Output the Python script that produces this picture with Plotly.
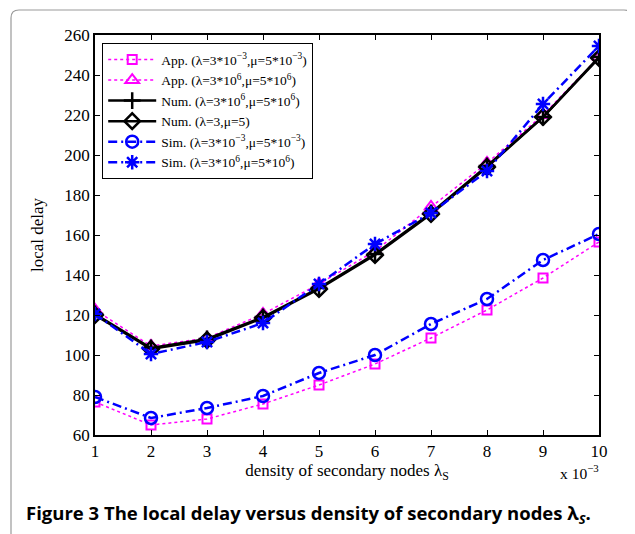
import plotly.graph_objects as go

x = [1, 2, 3, 4, 5, 6, 7, 8, 9, 10]
app_low = [76.5, 65, 68, 75.5, 85, 95.5, 108.5, 122.5, 138.5, 156.5]
app_high = [122.5, 104.5, 108.5, 120.5, 135.5, 152, 174, 196, 220, 249]
num_high = [120.5, 103.5, 108, 119, 133.5, 150.5, 171, 194.5, 219, 249]
num_small = [120, 103, 107.5, 118.5, 133, 150, 170.5, 194, 219, 248.5]
sim_low = [79, 68.5, 73.5, 79.5, 91, 100, 115.5, 128, 147.5, 160.5]
sim_high = [120.5, 100.5, 106.5, 116, 135.5, 155.5, 171, 192, 225.5, 254.5]

names = [
    "App. (λ=3*10<sup>−3</sup>,μ=5*10<sup>−3</sup>)",
    "App. (λ=3*10<sup>6</sup>,μ=5*10<sup>6</sup>)",
    "Num. (λ=3*10<sup>6</sup>,μ=5*10<sup>6</sup>)",
    "Num. (λ=3,μ=5)",
    "Sim. (λ=3*10<sup>−3</sup>,μ=5*10<sup>−3</sup>)",
    "Sim. (λ=3*10<sup>6</sup>,μ=5*10<sup>6</sup>)",
]
yticks = [60, 80, 100, 120, 140, 160, 180, 200, 220, 240, 260]

MAG = "#ff00ff"
BLUE = "#0000ff"
serif = "Liberation Serif, Times New Roman, serif"

fig = go.Figure()
specs = [
    (app_low, names[0], MAG, "dot", 1.5, "square-open", 9, 2),
    (app_high, names[1], MAG, "dot", 1.5, "triangle-up-open", 12, 2),
    (num_high, names[2], "black", "solid", 2.5, "cross-thin-open", 12, 2.5),
    (num_small, names[3], "black", "solid", 2.5, "diamond-open", 12, 2.5),
    (sim_low, names[4], BLUE, "9px,4px,2px,4px", 2.5, "circle-open", 12, 2.5),
    (sim_high, names[5], BLUE, "9px,4px,2px,4px", 2.5, "asterisk-open", 12, 2.5),
]
for ys, nm, col, dash, lw, sym, ms, mlw in specs:
    fig.add_trace(go.Scatter(
        x=x, y=ys, name=nm, mode="lines+markers",
        line=dict(color=col, dash=dash, width=lw),
        marker=dict(symbol=sym, size=ms, color=col, line=dict(color=col, width=mlw)),
    ))

axis_common = dict(showline=True, linecolor="black", linewidth=1.5, mirror="ticks",
                   ticks="inside", ticklen=5, tickcolor="black", showgrid=False,
                   zeroline=False, tickfont=dict(family=serif, size=17, color="black"))

fig.update_xaxes(range=[1, 10], tickvals=x, ticktext=[str(v) for v in x],
                 title=dict(text="density of secondary nodes λ<sub>S</sub>",
                            font=dict(family=serif, size=17, color="black"), standoff=0),
                 **axis_common)
fig.update_yaxes(range=[60, 260], tickvals=yticks,
                 title=dict(text="local delay", font=dict(family=serif, size=17, color="black"),
                            standoff=16),
                 **axis_common)

# page coords -> paper coords (plot area spans page x 95..599, y 35..435)
def px(v):
    return (v - 95) / 504
def py(v):
    return (435 - v) / 400
L, R, T, B = px(11), px(632), py(10), py(560)
rx, ry = 8 / 504, 8 / 400
path = (f"M {L},{B} L {L},{T-ry} Q {L},{T} {L+rx},{T} L {R-rx},{T} "
        f"Q {R},{T} {R},{T-ry} L {R},{B}")
fig.add_shape(type="path", path=path, xref="paper", yref="paper",
              line=dict(color="#9a9a9a", width=1.2), layer="below")

fig.add_annotation(text="x 10<sup>−3</sup>", xref="paper", yref="paper",
                   x=px(601), y=py(472), xanchor="right", yanchor="middle", showarrow=False,
                   font=dict(family=serif, size=15.5, color="black"))
fig.add_annotation(text="<b>Figure 3 The local delay versus density of secondary nodes λ<sub><i>S</i></sub>.</b>",
                   xref="paper", yref="paper", x=px(308), y=py(514), xanchor="center",
                   yanchor="middle", showarrow=False,
                   font=dict(family="Open Sans, Noto Sans, sans-serif", size=18.5, color="black"))

# the page body has an 8px margin, so margins are shifted by 8px
fig.update_layout(
    width=635, height=534,
    margin=dict(l=87, r=44, t=27, b=107),
    paper_bgcolor="white", plot_bgcolor="white",
    showlegend=True,
    legend=dict(x=px(102), y=py(43), xanchor="left", yanchor="top",
                bordercolor="black", borderwidth=1.2, bgcolor="white",
                font=dict(family=serif, size=13.5, color="black"),
                itemwidth=48, tracegroupgap=0),
)

fig.write_html("out.html")
